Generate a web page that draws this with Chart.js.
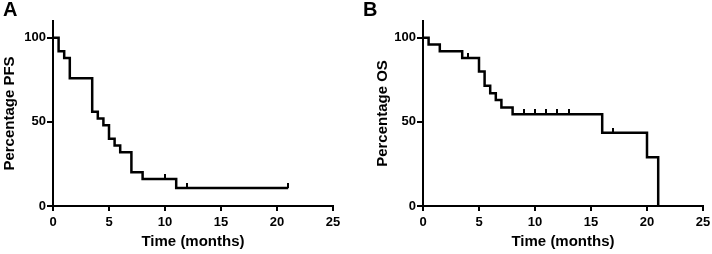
<!DOCTYPE html>
<html><head><meta charset="utf-8">
<script src="https://cdn.jsdelivr.net/npm/chart.js@4"></script>
<style>
html,body{margin:0;padding:0;background:#fff;width:712px;height:254px;overflow:hidden;position:relative;}
.wrap{position:absolute;top:0;height:254px;}
#wa{left:0;width:356px;}
#wb{left:356px;width:370px;}
.lbl{position:absolute;top:-2px;font:bold 20px "Liberation Sans",Arial,sans-serif;color:#000;}
</style></head><body>
<div class="wrap" id="wa"><canvas id="ca" width="356" height="254"></canvas></div>
<div class="wrap" id="wb"><canvas id="cb" width="370" height="254"></canvas></div>
<div class="lbl" style="left:3px">A</div>
<div class="lbl" style="left:363px">B</div>
<script>
// ---- Data ----
const pfsTimes = [0, 0.5, 1, 1.5, 3.5, 4, 4.5, 5, 5.5, 6, 7, 8, 11, 21];
const pfsPercent = [100, 92, 88, 76, 56, 52, 48, 40, 36, 32, 20, 16, 10.67, 10.67];
const pfsCensorTimes = [10, 12, 21];
const pfsCensorPercent = [16, 10.67, 10.67];

const osTimes = [0, 0.5, 1.5, 3.5, 5, 5.5, 6, 6.5, 7, 8, 16, 20, 21];
const osPercent = [100, 96, 92, 88, 80, 71.5, 67, 63, 58.5, 54.5, 43.5, 29, 0];
const osCensorTimes = [4, 9, 10, 11, 12, 13, 17];
const osCensorPercent = [88, 54.5, 54.5, 54.5, 54.5, 54.5, 43.5];

const xTickValues = [0, 5, 10, 15, 20, 25];
const yTickValues = [0, 50, 100];

// ---- Styling ----
const FONT = '"Liberation Sans", Arial, Helvetica, sans-serif';

function censorMark() {
  const c = document.createElement('canvas');
  c.width = 2; c.height = 10;
  const g = c.getContext('2d');
  g.fillStyle = '#000';
  g.fillRect(0, 0, 2, 5);
  return c;
}
const mark = censorMark();

function pts(xs, ys) { return xs.map((x, i) => ({x: x, y: ys[i]})); }

function makeChart(id, times, pcts, cTimes, cPcts, yTitle, yWidth, titlePad) {
  return new Chart(document.getElementById(id), {
    type: 'line',
    data: {
      datasets: [
        {
          data: pts(times, pcts),
          borderColor: '#000', borderWidth: 2.5, stepped: 'before',
          pointRadius: 0, fill: false, clip: false, tension: 0
        },
        {
          data: pts(cTimes, cPcts),
          showLine: false, pointStyle: mark, pointRadius: 5,
          borderColor: '#000', backgroundColor: '#000', clip: false
        }
      ]
    },
    options: {
      responsive: false, animation: false, devicePixelRatio: 1,
      layout: { padding: { left: 0, right: 23, top: 21, bottom: 0 } },
      plugins: { legend: { display: false }, tooltip: { enabled: false } },
      scales: {
        x: {
          type: 'linear', min: 0, max: 25,
          afterBuildTicks: s => { s.ticks = xTickValues.map(v => ({value: v})); },
          ticks: { color: '#000', font: { family: FONT, size: 13, weight: 'bold' }, padding: 4, maxRotation: 0, autoSkip: false },
          grid: { display: true, drawOnChartArea: false, drawTicks: true, tickLength: 5, color: '#000', lineWidth: 2 },
          border: { display: true, color: '#000', width: 2 },
          title: { display: true, text: 'Time (months)', color: '#000', font: { family: FONT, size: 15, weight: 'bold' }, padding: { top: 0, bottom: 3 } },
          afterFit: s => { s.height = 48; }
        },
        y: {
          type: 'linear', min: 0, max: 110,
          afterBuildTicks: s => { s.ticks = yTickValues.map(v => ({value: v})); },
          ticks: { color: '#000', font: { family: FONT, size: 13, weight: 'bold' }, padding: 1 },
          grid: { display: true, drawOnChartArea: false, drawTicks: true, tickLength: 6, color: '#000', lineWidth: 2 },
          border: { display: true, color: '#000', width: 2 },
          title: { display: true, text: yTitle, color: '#000', font: { family: FONT, size: 15, weight: 'bold' }, padding: { top: titlePad, bottom: 0 } },
          afterFit: s => { s.width = yWidth; }
        }
      }
    }
  });
}

makeChart('ca', pfsTimes, pfsPercent, pfsCensorTimes, pfsCensorPercent, 'Percentage PFS', 53, 1);
makeChart('cb', osTimes, osPercent, osCensorTimes, osCensorPercent, 'Percentage OS', 67, 18);
</script>
</body></html>
